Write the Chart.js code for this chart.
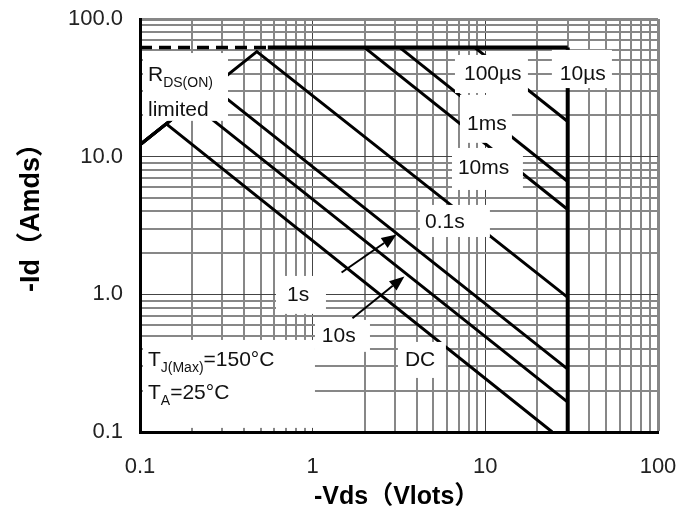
<!DOCTYPE html>
<html><head><meta charset="utf-8">
<script src="https://cdn.jsdelivr.net/npm/chart.js@4.4.1/dist/chart.umd.min.js"></script>
<style>html,body{margin:0;padding:0;background:#fff;}#wrap{width:693px;height:510px;}</style>
</head><body><div id="wrap"><canvas id="c" width="693" height="510"></canvas></div>
<script>
// ---- axis ticks ----
const xTicks = [0.1,0.2,0.3,0.4,0.5,0.6,0.7,0.8,0.9,1,2,3,4,5,6,7,8,9,10,20,30,40,50,60,70,80,90,100];
const yTicks = [0.1,0.2,0.3,0.4,0.5,0.6,0.7,0.8,0.9,1,2,3,4,5,6,7,8,9,10,20,30,40,50,60,70,80,90,100];
const xMajor = [0.1,1,10,100];
const xMajorLabels = ['0.1','1','10','100'];
const yMajor = [0.1,1,10,100];
const yMajorLabels = ['0.1','1.0','10.0','100.0'];

// ---- series (Vds in V, Id in A) ----
const limitDashedV = [0.1, 0.55];
const limitDashedI = [62, 62];
const limitV = [0.55, 30];
const limitI = [62, 62];
const us10V = [30, 30];
const us10I = [62, 0.1];
const us100V = [8.7, 30];
const us100I = [62, 18];
const ms1V = [3.2, 30];
const ms1I = [62, 6.6];
const ms10V = [2.0, 30];
const ms10I = [62, 4.13];
const s01V = [0.1, 0.475, 30];
const s01I = [12.2, 58, 0.95];
const s1V = [0.1, 0.262, 30];
const s1I = [12.2, 32, 0.286];
const s10V = [0.1, 0.2, 30];
const s10I = [12.2, 24.4, 0.165];
const dcV = [0.1, 0.142, 24.4];
const dcI = [12.2, 17.3, 0.1];

const pts = (vs, is) => vs.map((v, k) => ({x: v, y: is[k]}));
const line = (vs, is, extra) => Object.assign({data: pts(vs, is), showLine: true, pointRadius: 0,
  borderColor: '#000', borderWidth: 3, fill: false, tension: 0}, extra || {});

// ---- annotations (data coordinates) ----
const annotations = {
  boxes: [
    [0.1041, 56.6, 0.3233, 18.2],
    [6.67, 54.8, 17.65, 29.0],
    [24.29, 59.6, 54.1, 31.5],
    [7.13, 28.1, 14.26, 12.6],
    [6.41, 11.57, 16.51, 5.73],
    [4.18, 4.46, 10.63, 2.61],
    [0.613, 1.36, 1.194, 0.721],
    [1.031, 0.652, 2.147, 0.382],
    [3.118, 0.451, 5.913, 0.247],
    [0.1041, 0.4665, 1.031, 0.1071]
  ],
  texts: [
    {parts: [['100µs']], x: 7.52, y: 39.9},
    {parts: [['10µs']], x: 27.0, y: 40},
    {parts: [['1ms']], x: 7.83, y: 17.3},
    {parts: [['10ms']], x: 6.94, y: 8.28},
    {parts: [['0.1s']], x: 4.47, y: 3.36},
    {parts: [['1s']], x: 0.71, y: 0.99},
    {parts: [['10s']], x: 1.13, y: 0.50},
    {parts: [['DC']], x: 3.42, y: 0.334},
    {parts: [['R'], ['DS(ON)', 1]], x: 0.1112, y: 39.2},
    {parts: [['limited']], x: 0.1112, y: 21.8},
    {parts: [['T'], ['J(Max)', 1], ['=150°C']], x: 0.1112, y: 0.334},
    {parts: [['T'], ['A', 1], ['=25°C']], x: 0.1112, y: 0.192}
  ],
  arrows: [
    [1.47, 1.44, 3.06, 2.72],
    [1.70, 0.67, 3.40, 1.35]
  ]
};

const FONT = '"Liberation Sans", Arial, "Noto Sans CJK SC", sans-serif';

const annot = {
  id: 'annot',
  afterDatasetsDraw(chart) {
    const {ctx, scales: {x, y}} = chart;
    const px = v => x.getPixelForValue(v), py = v => y.getPixelForValue(v);
    ctx.save();
    ctx.fillStyle = '#fff';
    annotations.boxes.forEach(b => {
      const x1 = px(b[0]), x2 = px(b[2]), y1 = py(b[1]), y2 = py(b[3]);
      ctx.fillRect(Math.min(x1, x2), Math.min(y1, y2), Math.abs(x2 - x1), Math.abs(y2 - y1));
    });
    ctx.fillStyle = '#111';
    ctx.textBaseline = 'middle';
    ctx.textAlign = 'left';
    annotations.texts.forEach(t => {
      let cx = px(t.x);
      const cy = py(t.y);
      t.parts.forEach(p => {
        const sub = p[1];
        ctx.font = (sub ? 14 : 21) + 'px ' + FONT;
        ctx.fillText(p[0], cx, cy + (sub ? 8 : 0));
        cx += ctx.measureText(p[0]).width;
      });
    });
    ctx.strokeStyle = '#000';
    ctx.fillStyle = '#000';
    ctx.lineWidth = 2;
    annotations.arrows.forEach(a => {
      const x1 = px(a[0]), y1 = py(a[1]), x2 = px(a[2]), y2 = py(a[3]);
      const ang = Math.atan2(y2 - y1, x2 - x1);
      const L = 15, W = 6;
      const bx = x2 - L * Math.cos(ang), by = y2 - L * Math.sin(ang);
      ctx.beginPath(); ctx.moveTo(x1, y1); ctx.lineTo(bx, by); ctx.stroke();
      ctx.beginPath();
      ctx.moveTo(x2, y2);
      ctx.lineTo(bx + W * Math.sin(ang), by - W * Math.cos(ang));
      ctx.lineTo(bx - W * Math.sin(ang), by + W * Math.cos(ang));
      ctx.closePath(); ctx.fill();
    });
    ctx.restore();
  },
  afterDraw(chart) {
    const {ctx, chartArea} = chart;
    ctx.save();
    ctx.fillStyle = '#000';
    ctx.font = 'bold 25px ' + FONT;
    ctx.textBaseline = 'alphabetic';
    ctx.textAlign = 'left';
    ctx.fillText('-Vds（Vlots）', chartArea.left + 174, chartArea.bottom + 72);
    ctx.font = 'bold 27px ' + FONT;
    ctx.translate(39, chartArea.top + 273);
    ctx.rotate(-Math.PI / 2);
    ctx.fillText('-Id（Amds）', 0, 0);
    ctx.restore();
  }
};

const bg = {
  id: 'bg',
  beforeDraw(chart) {
    const {ctx} = chart;
    ctx.save(); ctx.fillStyle = '#fff'; ctx.fillRect(0, 0, chart.width, chart.height); ctx.restore();
  }
};

const near = (v, arr) => arr.findIndex(m => Math.abs(v - m) / m < 1e-6);
const gridColor = c => {
  const v = c.tick && c.tick.value;
  if (v === undefined) return '#878787';
  if (near(v, [0.1]) >= 0) return 'rgba(0,0,0,0)';
  if (near(v, [100]) >= 0) return '#878787';
  if (near(v, [1, 10]) >= 0) return '#444';
  return '#878787';
};
const gridWidth = c => {
  const v = c.tick && c.tick.value;
  if (v === undefined) return 2;
  if (near(v, [100]) >= 0) return 3;
  if (near(v, [1, 10]) >= 0) return 1;
  return 2;
};

new Chart(document.getElementById('c'), {
  type: 'scatter',
  data: {
    datasets: [
      line(limitDashedV, limitDashedI, {borderDash: [12, 7], borderWidth: 3.5}),
      line(limitV, limitI, {borderWidth: 4}),
      line(us10V, us10I, {borderWidth: 4}),
      line(us100V, us100I),
      line(ms1V, ms1I),
      line(ms10V, ms10I),
      line(s01V, s01I),
      line(s1V, s1I),
      line(s10V, s10I),
      line(dcV, dcI)
    ]
  },
  options: {
    responsive: false,
    animation: false,
    devicePixelRatio: 1,
    layout: {padding: {top: 19, right: 35, left: 0, bottom: 0}},
    plugins: {legend: {display: false}, tooltip: {enabled: false}},
    scales: {
      x: {
        type: 'logarithmic', min: 0.1, max: 100,
        afterBuildTicks: s => { s.ticks = xTicks.map(v => ({value: v})); },
        afterFit: s => { s.height = 78; s.paddingLeft = 0; s.paddingRight = 0; },
        ticks: {
          autoSkip: false, maxRotation: 0, padding: 22, color: '#222',
          font: {size: 22, family: FONT},
          callback: v => { const k = near(v, xMajor); return k >= 0 ? xMajorLabels[k] : ''; }
        },
        grid: {drawTicks: false, color: gridColor, lineWidth: gridWidth},
        border: {color: '#000', width: 3}
      },
      y: {
        type: 'logarithmic', min: 0.1, max: 100,
        afterBuildTicks: s => { s.ticks = yTicks.map(v => ({value: v})); },
        afterFit: s => { s.width = 140; s.paddingTop = 0; s.paddingBottom = 0; },
        ticks: {
          autoSkip: false, padding: 17, color: '#222',
          font: {size: 22, family: FONT},
          callback: v => { const k = near(v, yMajor); return k >= 0 ? yMajorLabels[k] : ''; }
        },
        grid: {drawTicks: false, color: gridColor, lineWidth: gridWidth},
        border: {color: '#000', width: 3}
      }
    }
  },
  plugins: [bg, annot]
});
</script>
</body></html>
